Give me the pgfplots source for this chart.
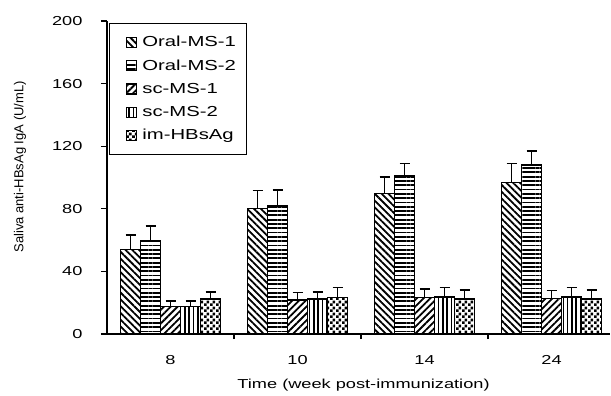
\documentclass[border=0pt]{standalone}
\usepackage{fontspec}
\setmainfont{Liberation Sans}
\newfontfamily\wide[FakeStretch=1.4]{Liberation Sans}
\usepackage{pgfplots}
\pgfplotsset{compat=1.18}
\usetikzlibrary{patterns.meta}
\tikzdeclarepattern{
 name=checks, type=uncolored,
 bottom left={(0,0)}, top right={(6bp,6bp)}, tile size={(6bp,6bp)},
 code={\fill (0,0) rectangle (3bp,3bp); \fill (3bp,3bp) rectangle (6bp,6bp);}
}
\begin{document}
\begin{tikzpicture}
\begin{axis}[
 scale only axis, width=503bp, height=313bp,
 xmin=-0.5, xmax=3.46, ymin=0, ymax=200,
 axis x line=bottom, axis y line=left,
 axis line style={-, line width=1.8bp},
 ybar=0pt, bar width=20bp,
 xtick={0,1,2,3}, xticklabels={8,10,14,24},
 minor xtick={0.5,1.5,2.5},
 major x tick style={draw=none},
 minor x tick style={line width=1.2bp, black},
 minor tick length=5bp,
 ytick={0,40,80,120,160,200},
 major tick length=6bp,
 tick align=outside,
 y tick style={line width=1.2bp, black},
 tick label style={font=\wide\fontsize{13bp}{16bp}\selectfont},
 /pgf/number format/assume math mode=true,
 xticklabel style={yshift=-12bp},
 yticklabel style={xshift=-15bp},
 xlabel={Time (week post-immunization)},
 every axis x label/.style={font=\wide\fontsize{13bp}{16bp}\selectfont, at={(rel axis cs:0.51,0)}, anchor=center, yshift=-51bp},
 ylabel={Saliva anti-HBsAg IgA (U/mL)},
 every axis y label/.style={font=\fontsize{13bp}{15bp}\selectfont, at={(rel axis cs:0,0.534)}, anchor=center, xshift=-87bp, rotate=90},
 legend style={at={(rel axis cs:0.004,0.994)}, anchor=north west, draw=black, line width=0.8bp,
   font=\wide\fontsize{14.5bp}{17bp}\selectfont, row sep=7.5bp, inner xsep=8bp, inner ysep=11bp},
 legend cell align=left,
 legend image code/.code={\path[draw=none,fill=none] (0bp,0bp) -- (23bp,0bp);\draw[#1, line width=1.2bp] (9bp,-5bp) rectangle (19bp,5bp);},
 every axis plot/.append style={draw=black, line width=1.6bp,
   error bars/y dir=plus, error bars/y explicit,
   error bars/error bar style={line width=1.6bp, black},
   error bars/error mark options={rotate=90, mark size=5bp, line width=1.6bp, black}},
 clip=false,
]
\addplot[pattern={Lines[angle=-45,distance=4.8bp,line width=1.8bp]}] coordinates {
 (0,54.1) +- (0,9.2) (1,80.3) +- (0,11.3) (2,89.9) +- (0,10.6) (3,96.7) +- (0,12.3)};
\addplot[pattern={Lines[angle=0,distance=4.3bp,line width=1.8bp]}] coordinates {
 (0,59.6) +- (0,9.6) (1,81.8) +- (0,10.2) (2,101) +- (0,8) (3,108) +- (0,9)};
\addplot[pattern={Lines[angle=45,distance=4.8bp,line width=1.8bp]}] coordinates {
 (0,17.5) +- (0,3.6) (1,21.7) +- (0,4.7) (2,23.2) +- (0,5.6) (3,22.8) +- (0,4.9)};
\addplot[pattern={Lines[angle=90,distance=4.3bp,line width=1.6bp]}] coordinates {
 (0,17.5) +- (0,3.6) (1,22.2) +- (0,4.6) (2,23.8) +- (0,6) (3,23.8) +- (0,6)};
\addplot[pattern=checks] coordinates {
 (0,22.2) +- (0,4.8) (1,23.4) +- (0,6.4) (2,22.4) +- (0,5.7) (3,22.4) +- (0,5.6)};
\legend{Oral-MS-1,Oral-MS-2,sc-MS-1,sc-MS-2,im-HBsAg}
\coordinate (ll) at (rel axis cs:0,0);
\end{axis}
\pgfresetboundingbox
\path (ll) ++(-107bp,-62bp) rectangle ++(611bp,396bp);
\end{tikzpicture}
\end{document}
